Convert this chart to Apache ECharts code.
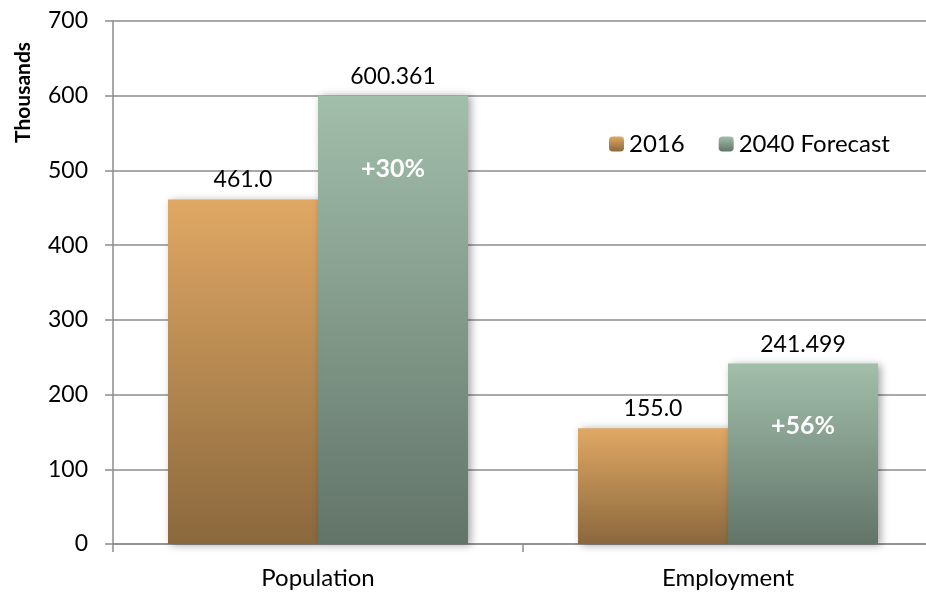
<!DOCTYPE html>
<html>
<head>
<meta charset="utf-8">
<script src="https://cdn.jsdelivr.net/npm/echarts@6/dist/echarts.min.js"></script>
<style>
  html, body { margin: 0; padding: 0; background: #fff; }
  #chart { width: 926px; height: 592px; }
</style>
</head>
<body>
<div id="chart"></div>
<script>
const categories = ["Population", "Employment"];
const values2016 = [461.0, 155.0];
const values2040 = [600.361, 241.499];
const growthLabels = ["+30%", "+56%"];
const yTicks = { min: 0, max: 700, interval: 100 };

const font = "Lato";

function grad(top, bottom) {
  return new echarts.graphic.LinearGradient(0, 0, 0, 1, [
    { offset: 0, color: top },
    { offset: 1, color: bottom },
  ]);
}

const barShadow = {
  shadowBlur: 8,
  shadowColor: "rgba(0,0,0,0.35)",
  shadowOffsetX: 3,
  shadowOffsetY: 1,
};

const chart = echarts.init(document.getElementById("chart"), null, {
  renderer: "canvas",
});

chart.setOption({
  animation: false,
  backgroundColor: "#fff",
  textStyle: { fontFamily: font },
  // plot runs past the right edge of the picture, as in the original
  grid: { left: 113, width: 820, top: 21, bottom: 48, outerBoundsMode: "none" },
  legend: {
    left: 604,
    top: 127,
    itemWidth: 15,
    itemHeight: 15,
    itemGap: 34,
    textStyle: { fontSize: 24, color: "#000", fontFamily: font },
    data: ["2016", "2040 Forecast"],
  },
  graphic: [
    {
      type: "text",
      x: 13,
      y: 143,
      rotation: Math.PI / 2,
      style: {
        text: "Thousands",
        font: "bold 21px " + font,
        fill: "#000",
        textAlign: "left",
        textVerticalAlign: "top",
      },
    },
  ],
  xAxis: {
    type: "category",
    data: categories,
    axisLine: { lineStyle: { color: "#8c8c8c", width: 1.5 } },
    axisTick: { show: true, length: 8, lineStyle: { color: "#8c8c8c", width: 1.5 } },
    axisLabel: { fontSize: 24, color: "#000", margin: 22, fontFamily: font },
  },
  yAxis: {
    type: "value",
    min: yTicks.min,
    max: yTicks.max,
    interval: yTicks.interval,
    axisLine: { show: true, lineStyle: { color: "#8c8c8c", width: 1.5 } },
    axisTick: { show: true, length: 8, lineStyle: { color: "#8c8c8c", width: 1.5 } },
    axisLabel: { fontSize: 23, color: "#000", margin: 25, fontFamily: font },
    splitLine: { lineStyle: { color: "#8c8c8c", width: 1.5 } },
  },
  series: [
    {
      name: "2016",
      type: "bar",
      data: values2016,
      barWidth: 150,
      barGap: "0%",
      itemStyle: Object.assign({ color: grad("#e0a864", "#8a683d") }, barShadow),
      label: {
        show: true,
        position: "top",
        distance: 8,
        fontSize: 23,
        color: "#000",
        fontFamily: font,
        formatter: (p) => p.value.toFixed(1),
      },
    },
    {
      name: "2040 Forecast",
      type: "bar",
      data: values2040,
      barWidth: 150,
      barGap: "0%",
      itemStyle: Object.assign({ color: grad("#a2bfab", "#627468") }, barShadow),
      label: {
        show: true,
        position: "top",
        distance: 7,
        fontSize: 23,
        color: "#000",
        fontFamily: font,
        formatter: (p) => String(p.value),
      },
      markPoint: {
        symbol: "circle",
        symbolSize: 0,
        data: categories.map((c, i) => ({
          coord: [c, values2040[i]],
          label: {
            show: true,
            formatter: growthLabels[i],
            offset: [0, i === 0 ? 73 : 62],
            fontSize: 25,
            fontWeight: "bold",
            color: "#fff",
            fontFamily: font,
          },
        })),
      },
    },
  ],
});
</script>
</body>
</html>
